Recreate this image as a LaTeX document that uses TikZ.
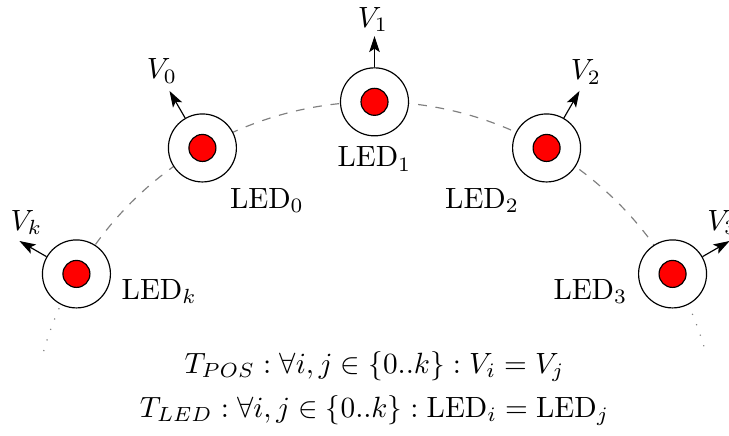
\documentclass[tikz,border=0pt]{standalone}
\usetikzlibrary{positioning,arrows.meta}
\begin{document}
\begin{tikzpicture}[
  ledring/.style={circle,draw,fill=white,minimum size=0.816cm,inner sep=0pt},
  ledcore/.style={circle,draw,fill=red,minimum size=0.324cm,inner sep=0pt},
  track/.style={gray,dashed},
  trackend/.style={gray,dash pattern=on 0.4pt off 3.4pt},
  vec/.style={-{Stealth[length=5.5pt,width=3.6pt,inset=1.2pt]}},
  vlabel/.style={inner sep=1pt}]
\useasboundingbox (-4.494,0.132) rectangle (4.254,5.352);
\draw[trackend] (164:4.13) arc[start angle=164,end angle=150,radius=4.13];
\draw[track] (150:4.13) arc[start angle=150,end angle=30,radius=4.13];
\draw[trackend] (30:4.13) arc[start angle=30,end angle=16,radius=4.13];
\node[ledring] (ledk) at (150:4.13) {};
\node[ledring] (led0) at (120:4.13) {};
\node[ledring] (led1) at (90:4.13) {};
\node[ledring] (led2) at (60:4.13) {};
\node[ledring] (led3) at (30:4.13) {};
\node[ledcore] (corek) at (ledk) {};
\node[ledcore] (core0) at (led0) {};
\node[ledcore] (core1) at (led1) {};
\node[ledcore] (core2) at (led2) {};
\node[ledcore] (core3) at (led3) {};
\coordinate (tipk) at (-4.261,2.46);
\coordinate (tip0) at (-2.46,4.261);
\coordinate (tip1) at (0,4.92);
\coordinate (tip2) at (2.46,4.261);
\coordinate (tip3) at (4.261,2.46);
\draw[vec] (ledk.150) -- (tipk);
\draw[vec] (led0.120) -- (tip0);
\draw[vec] (led1.90) -- (tip1);
\draw[vec] (led2.60) -- (tip2);
\draw[vec] (led3.30) -- (tip3);
\node[vlabel] (vk) at (-4.176,2.682) {$V_k$};
\node[vlabel] (v0) at (-2.55,4.50) {$V_0$};
\node[vlabel] (v1) at (-0.018,5.12) {$V_1$};
\node[vlabel] (v2) at (2.538,4.488) {$V_2$};
\node[vlabel] (v3) at (4.176,2.682) {$V_3$};
\node[anchor=west] (namek) at ([xshift=0.06cm]ledk.-30) {$\mathrm{LED}_k$};
\node[anchor=north west] (name0) at (led0.-60) {$\mathrm{LED}_0$};
\node[below=0pt of led1] (name1) {$\mathrm{LED}_1$};
\node[anchor=north east] (name2) at (led2.-120) {$\mathrm{LED}_2$};
\node[anchor=east] (name3) at ([xshift=-0.06cm]led3.210) {$\mathrm{LED}_3$};
\node (tpos) at (0,0.954) {$T_{POS} : \forall i,j \in \{0..k\} : V_i = V_j$};
\node (tled) at (0,0.425) {$T_{LED} : \forall i,j \in \{0..k\} : \mathrm{LED}_i = \mathrm{LED}_j$};
\end{tikzpicture}
\end{document}
